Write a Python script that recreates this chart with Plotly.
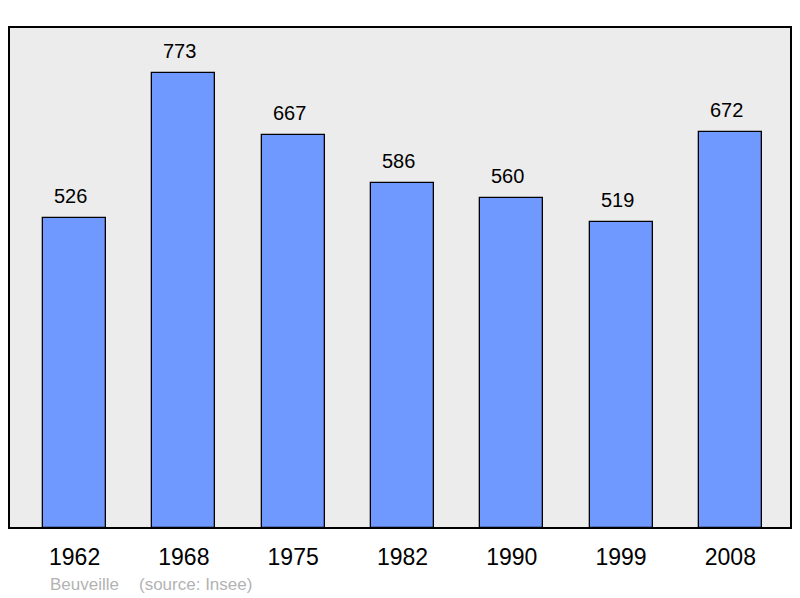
import plotly.graph_objects as go

years = ["1962", "1968", "1975", "1982", "1990", "1999", "2008"]
population = [526, 773, 667, 586, 560, 519, 672]
commune = "Beuveille"
source = "(source: Insee)"

xpos = list(range(len(years)))

fig = go.Figure()
fig.add_trace(go.Bar(
    x=xpos, y=population, width=0.576,
    marker=dict(color="#7099ff", line=dict(color="#000000", width=1.3)),
    hoverinfo="skip",
))

for x, v in zip(xpos, population):
    fig.add_annotation(x=x, y=v, text=str(v), showarrow=False, yanchor="bottom",
                       yshift=9, xshift=-4, font=dict(family="Liberation Sans", size=20, color="#000"))

fig.add_annotation(xref="paper", yref="paper", x=(48-9)/782, y=-0.112, xanchor="left", yanchor="middle",
                   text=commune, showarrow=False,
                   font=dict(family="Liberation Sans", size=17, color="#b3b3b3"))
fig.add_annotation(xref="paper", yref="paper", x=(137-9)/782, y=-0.112, xanchor="left", yanchor="middle",
                   text=source, showarrow=False,
                   font=dict(family="Liberation Sans", size=17, color="#b3b3b3"))

fig.add_shape(type="rect", xref="paper", yref="paper", x0=0, x1=1, y0=0, y1=1,
              line=dict(color="#000000", width=2), layer="above")

fig.update_layout(
    width=792, height=590,
    margin=dict(l=1, r=9, t=19, b=70),
    paper_bgcolor="#ffffff", plot_bgcolor="#ececec",
    showlegend=False, bargap=0,
    xaxis=dict(range=[-0.6, 6.555], tickvals=xpos, ticktext=years, showgrid=False,
               zeroline=False, ticks="outside", ticklen=8, tickcolor="rgba(0,0,0,0)",
               tickfont=dict(family="Liberation Sans", size=23, color="#000")),
    yaxis=dict(range=[0, 851], showticklabels=False, showgrid=False, zeroline=False),
)

fig.write_html("out.html")
